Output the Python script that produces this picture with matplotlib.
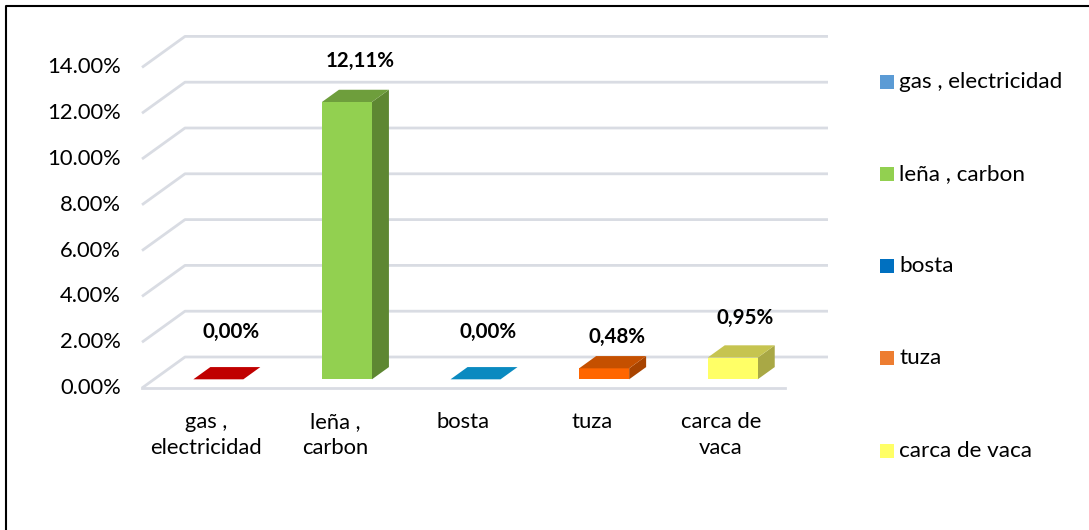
import matplotlib
matplotlib.use("Agg")
import matplotlib.pyplot as plt
from matplotlib.patches import Polygon, Rectangle

# ---------------- data ----------------
categories = ["gas ,\nelectricidad", "leña ,\ncarbon", "bosta", "tuza", "carca de\nvaca"]
legend_labels = ["gas , electricidad", "leña , carbon", "bosta", "tuza", "carca de vaca"]
values = [0.00, 12.11, 0.00, 0.48, 0.95]
value_labels = ["0,00%", "12,11%", "0,00%", "0,48%", "0,95%"]
y_ticks = [0, 2, 4, 6, 8, 10, 12, 14]
y_tick_labels = ["0.00%", "2.00%", "4.00%", "6.00%", "8.00%", "10.00%", "12.00%", "14.00%"]

# ---------------- styles ----------------
front_colors = ["#C00000", "#92D050", "#0A8AC0", "#FF6600", "#FFFF66"]
top_colors = ["#C00000", "#6E9E3C", "#0A8AC0", "#C55000", "#C6C450"]
side_colors = ["#A00000", "#5E8732", "#07709C", "#A84400", "#A9A845"]
legend_colors = ["#5B9BD5", "#92D050", "#0070C0", "#ED7D31", "#FFFF66"]
label_dy_px = [47, 41, 47, 31, 40]
FS = 15.8
FSB = 14.8

W, H = 1089, 530
fig = plt.figure(figsize=(W / 100, H / 100), dpi=100)
ax = fig.add_axes([0, 0, 1, 1])
ax.set_axis_off()

# pixel mapping
SX, SY = 128.6, 22.9          # px per category, px per percent
X0, Y0 = 206.3, 388.0         # px of category 0 front-floor centre / zero level
ax.set_xlim((0 - X0) / SX, (W - X0) / SX)
ax.set_ylim((Y0 - H) / SY, (Y0 - 0) / SY)

def px(x, y):
    return ((x - X0) / SX, (Y0 - y) / SY)

DX, DY = 43 / SX, 31 / SY     # depth of floor
n = len(categories)
grid_c = "#D9DCE3"

# gridlines (left wall diagonals + back wall)
for t in y_ticks:
    ax.plot([-0.5, -0.5 + DX, n - 0.5 + DX], [t, t + DY, t + DY],
            color=grid_c, lw=2, solid_capstyle="butt", zorder=1)
# front floor edge
ax.plot([-0.5, n - 0.5], [0, 0], color=grid_c, lw=2, zorder=1)

# bars
bw = 50 / SX
f0 = 0.28
bd = 0.395
for i, v in enumerate(values):
    xl = i - bw / 2 + f0 * DX
    xr = i + bw / 2 + f0 * DX
    yb = f0 * DY
    yt = yb + v
    ddx, ddy = bd * DX, bd * DY
    if v > 0:
        ax.add_patch(Polygon([(xr, yb), (xr + ddx, yb + ddy), (xr + ddx, yt + ddy), (xr, yt)],
                             closed=True, facecolor=side_colors[i], edgecolor="none", zorder=3))
        ax.add_patch(Rectangle((xl, yb), xr - xl, v, facecolor=front_colors[i],
                               edgecolor="none", zorder=3))
    ax.add_patch(Polygon([(xl, yt), (xr, yt), (xr + ddx, yt + ddy), (xl + ddx, yt + ddy)],
                         closed=True, facecolor=top_colors[i], edgecolor="none", zorder=3))
    ax.text(i + f0 * DX + 0.1, yt + label_dy_px[i] / SY, value_labels[i],
            ha="center", va="center", fontsize=FSB, fontweight="bold",
            family="Lato", color="#000000", zorder=5)

# y tick labels
for t, lab in zip(y_ticks, y_tick_labels):
    x, _ = px(121, 0)
    ax.text(x, t, lab, ha="right", va="center", fontsize=FS, family="Lato", color="#000000")

# category labels
for i, c in enumerate(categories):
    ax.text(i, px(0, 412)[1], c, ha="center", va="top", fontsize=FS, family="Lato",
            color="#000000", linespacing=1.38)

# legend (manual)
leg_y = [82, 174, 266, 358, 451]
for lab, col, yy in zip(legend_labels, legend_colors, leg_y):
    x1, y1 = px(880, yy + 7)
    x2, y2 = px(894, yy - 7)
    ax.add_patch(Rectangle((x1, y1), x2 - x1, y2 - y1, facecolor=col, edgecolor="none"))
    xt, yt = px(899, yy)
    ax.text(xt, yt, lab, ha="left", va="center", fontsize=FS + 0.4, family="Lato", color="#000000")

# chart border (left and top visible)
bx, by = px(6, 6)
bx2, by2 = px(W + 5, H + 5)
ax.plot([bx, bx, bx2], [by2, by, by], color="#000000", lw=1.5, zorder=6)

fig.savefig("out.png", dpi=100)
